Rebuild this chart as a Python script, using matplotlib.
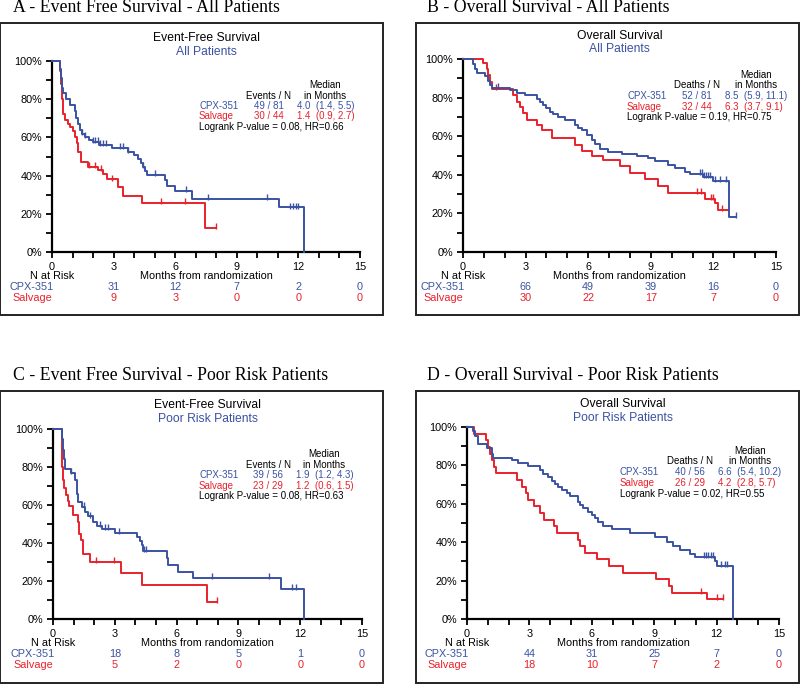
import numpy as np
import matplotlib
matplotlib.use("Agg")
import matplotlib.pyplot as plt
from matplotlib.patches import Rectangle

# --- colours / fonts ---
BLUE = "#3a52a3"
RED = "#e8212b"
SANS = "Liberation Sans"
SERIF = "Liberation Serif"

# --- data (months, % surviving) ---
# A - EFS all patients
a_cpx_t = [0, 0.40, 0.45, 0.50, 0.55, 0.70, 0.90, 1.10, 1.15, 1.25, 1.35, 1.45, 1.60, 1.80, 2.00, 2.30,
           2.90, 3.70, 4.00, 4.20, 4.35, 4.45, 4.55, 4.65, 5.50, 5.60, 6.00, 6.80, 11.05, 12.25]
a_cpx_s = [100, 96, 91, 86, 83, 80, 77, 74, 70, 67, 64, 62, 60, 58.5, 57.5, 56,
           54.5, 52.5, 51, 48.5, 46.5, 44.5, 42.5, 40.5, 37.5, 34.5, 32, 28, 23.3, 0]
a_cpx_end = 12.25
a_cpx_cens = [1.45, 1.6, 2.0, 2.1, 2.25, 2.35, 2.5, 2.65, 3.3, 3.45, 3.7, 4.45, 5.0, 6.55, 7.6, 10.45,
              11.6, 11.75, 11.9, 12.0]
a_sal_t = [0, 0.40, 0.45, 0.50, 0.55, 0.63, 0.80, 0.88, 1.04, 1.12, 1.20, 1.28, 1.41, 1.77, 2.26, 2.50,
           2.66, 3.23, 3.47, 4.37, 7.45]
a_sal_s = [100, 95, 88, 80, 72, 69, 67, 65.5, 63.5, 60, 57, 52.5, 47, 44.5, 43, 41,
           38, 34, 29.5, 25.5, 12.7]
a_sal_end = 7.97
a_sal_cens = [1.8, 2.1, 2.4, 2.9, 5.3, 6.5, 7.97]

# B - OS all patients
b_cpx_t = [0, 0.50, 0.58, 0.65, 1.05, 1.21, 1.29, 1.37, 2.25, 2.57, 2.97, 3.53, 3.69, 3.85, 4.00, 4.17,
           4.33, 4.57, 4.89, 5.37, 5.50, 5.69, 5.93, 6.17, 6.33, 6.57, 6.96, 7.60, 8.32, 8.88, 9.20,
           9.84, 10.16, 10.64, 10.88, 11.52, 12.0, 12.76]
b_cpx_s = [100, 97.5, 95, 93, 91, 88.5, 86.5, 85, 84, 82.5, 81.5, 79.5, 77.5, 76, 74.5, 72.5,
           71.5, 70, 68.5, 66, 64.5, 63, 60.5, 58, 56, 53.5, 52, 51, 50, 48.5, 47,
           45, 43.5, 41.5, 40.3, 38.7, 36.6, 18]
b_cpx_end = 13.08
b_cpx_cens = [1.7, 11.35, 11.45, 11.55, 11.65, 11.75, 11.85, 12.1, 12.3, 12.6, 13.08]
b_sal_t = [0, 0.97, 1.13, 1.21, 1.29, 1.37, 2.41, 2.57, 2.73, 2.89, 3.05, 3.53, 3.77, 4.25, 5.37,
           5.69, 6.17, 6.73, 7.52, 8.0, 8.72, 9.36, 9.84, 11.6, 12.08, 12.24]
b_sal_s = [100, 97.7, 95, 91.5, 88, 84.5, 81.5, 77.5, 75, 72, 68.5, 66, 63, 59, 55.5,
           52.5, 50, 47.5, 44.5, 41, 38, 34, 30.5, 27.5, 25.5, 22]
b_sal_end = 12.76
b_sal_cens = [1.6, 11.2, 11.4, 11.9, 12.0, 12.4]

# C - EFS poor risk
c_cpx_t = [0, 0.42, 0.47, 0.52, 0.58, 0.85, 1.07, 1.15, 1.23, 1.39, 1.55, 1.72, 1.96, 2.12, 2.36,
           3.0, 4.06, 4.22, 4.30, 4.39, 5.52, 5.60, 6.08, 6.81, 11.05, 12.2]
c_cpx_s = [100, 95, 89, 84, 79, 77, 73, 66, 61.5, 59, 56.5, 54, 51, 49, 47.5,
           45.5, 43, 41, 38.8, 36, 32, 28.3, 25, 21.5, 16, 0]
c_cpx_end = 12.2
c_cpx_cens = [0.88, 1.5, 1.8, 2.3, 2.5, 2.65, 3.2, 4.4, 4.5, 7.7, 10.5, 11.6, 11.8]
c_sal_t = [0, 0.42, 0.46, 0.50, 0.55, 0.62, 0.72, 0.80, 0.95, 1.20, 1.25, 1.35, 1.46, 1.78, 3.30,
           4.34, 7.46]
c_sal_s = [100, 90, 80, 73, 69, 65.5, 62, 59.5, 55, 51, 45, 41.5, 34, 30, 24,
           18, 9]
c_sal_end = 7.94
c_sal_cens = [2.1, 2.95, 7.94]

# D - OS poor risk
d_cpx_t = [0, 0.30, 0.38, 0.54, 0.95, 1.19, 1.27, 2.15, 2.47, 2.95, 3.51, 3.67, 3.91, 4.07, 4.23,
           4.39, 4.55, 4.79, 4.95, 5.35, 5.43, 5.59, 5.83, 5.99, 6.15, 6.31, 6.55, 6.96, 7.84,
           9.04, 9.60, 9.92, 10.24, 10.72, 10.96, 11.92, 12.0, 12.77]
d_cpx_s = [100, 98, 95.5, 91, 89, 86, 84, 82.7, 81.3, 79.7, 77.6, 75.5, 73.7, 72, 70.2,
           68.6, 67, 65.4, 64, 61, 59.4, 57.6, 55.9, 54, 52.4, 50.7, 48.5, 46.7, 44.6,
           42.9, 40.3, 38, 36, 34, 32.5, 30, 27.5, 0]
d_cpx_end = 12.77
d_cpx_cens = [11.4, 11.5, 11.6, 11.75, 11.85, 12.2, 12.4, 12.5]
d_sal_t = [0, 0.35, 0.93, 1.00, 1.10, 1.20, 1.30, 1.40, 2.40, 2.65, 2.85, 2.95, 3.20, 3.50, 3.70,
           4.16, 4.32, 5.36, 5.45, 5.68, 6.24, 6.85, 7.50, 9.10, 9.73, 9.84, 11.55]
d_sal_s = [100, 96.5, 93, 89.5, 86, 82.8, 79.3, 75.8, 72.4, 69, 65.5, 62, 58.6, 55.2, 51.7,
           48.3, 44.8, 41.4, 37.9, 34.5, 31, 27.6, 24.1, 20.7, 17.2, 13.8, 10.3]
d_sal_end = 12.3
d_sal_cens = [11.25, 12.0, 12.3]

# numbers at risk at 3, 6, 9, 12, 15 months
risk_times = [3, 6, 9, 12, 15]
a_cpx_risk = [31, 12, 7, 2, 0]
a_sal_risk = [9, 3, 0, 0, 0]
b_cpx_risk = [66, 49, 39, 16, 0]
b_sal_risk = [30, 22, 17, 7, 0]
c_cpx_risk = [18, 8, 5, 1, 0]
c_sal_risk = [5, 2, 0, 0, 0]
d_cpx_risk = [44, 31, 25, 7, 0]
d_sal_risk = [18, 10, 7, 2, 0]

W, H = 800, 684
PT = 0.72  # points per pixel at dpi 100

fig = plt.figure(figsize=(W / 100, H / 100), dpi=100)


def px_rect(l, r, t, b):
    return [l / W, 1 - b / H, (r - l) / W, (b - t) / H]


def draw_curve(ax, t, s, end, cens, color):
    tt = list(t) + [end]
    ss = list(s) + [s[-1]]
    ax.step(tt, ss, where="post", color=color, lw=1.4, clip_on=False, zorder=3)
    idx = np.searchsorted(np.array(t), np.array(cens), side="right") - 1
    cy = np.array(s)[idx]
    ax.plot(cens, cy + 1.0, ls="none", marker="|", ms=5, mew=1.0, color=color, clip_on=False, zorder=3)


def offset_text(ax, dx, dy, txt, color="black", ha="left", size=7.0):
    # dx, dy in pixels from the top right corner of the axes
    ax.annotate(txt, xy=(1, 1), xycoords="axes fraction", xytext=(dx * PT, -dy * PT),
                textcoords="offset points", ha=ha, va="center", color=color,
                fontsize=size, family=SANS)


def panel(box, axpx, title, title_xy, head1, head2, sub2, leg, curves, risks):
    # outer frame
    bl, br, bt, bb = box
    fig.add_artist(Rectangle((bl / W, 1 - bb / H), (br - bl) / W, (bb - bt) / H,
                             transform=fig.transFigure, fill=False, lw=1.4, ec="#222222"))
    fig.text(title_xy[0] / W, 1 - title_xy[1] / H, title, family=SERIF, fontsize=12.8,
             ha="left", va="center")

    ax = fig.add_axes(px_rect(*axpx))
    ax.set_xlim(0, 15)
    ax.set_ylim(0, 100)
    for side in ["top", "right"]:
        ax.spines[side].set_visible(False)
    for side in ["left", "bottom"]:
        ax.spines[side].set_linewidth(1.6)
    ax.set_xticks(range(0, 16, 3))
    ax.set_xticks(range(0, 16), minor=True)
    ax.set_yticks(range(0, 101, 20))
    ax.set_yticks(range(0, 101, 10), minor=True)
    ax.set_yticklabels([f"{v}%" for v in range(0, 101, 20)])
    ax.tick_params(which="both", direction="out", width=1.3, length=4, labelsize=7.8, pad=3)
    ax.tick_params(axis="x", which="both", length=4.5, pad=2.5)
    for lab in ax.get_xticklabels() + ax.get_yticklabels():
        lab.set_family(SANS)

    # header over the plot
    ax.annotate(head1, xy=(0.5, 1), xycoords="axes fraction", xytext=(0, head2[0] * PT),
                textcoords="offset points", ha="center", va="center", fontsize=8.7, family=SANS)
    ax.annotate(sub2, xy=(0.5, 1), xycoords="axes fraction", xytext=(0, head2[1] * PT),
                textcoords="offset points", ha="center", va="center", fontsize=8.7, family=SANS,
                color=BLUE)

    # legend block
    med_x, cnt_x, lab_x, val_x, ys, col_head, rows, logrank = leg
    offset_text(ax, med_x, ys[0], "Median", ha="center")
    offset_text(ax, cnt_x, ys[1], col_head, ha="center")
    offset_text(ax, med_x, ys[1], "in Months", ha="center")
    for (name, cnt, med, color), y in zip(rows, ys[2:4]):
        offset_text(ax, lab_x, y, name, color=color)
        offset_text(ax, cnt_x, y, cnt, color=color, ha="center")
        offset_text(ax, val_x, y, med, color=color)
    offset_text(ax, lab_x, ys[4], logrank)

    for c in curves:
        draw_curve(ax, *c)

    # numbers at risk
    def below(x, dy, txt, color="black", ha="center"):
        ax.annotate(txt, xy=(x, 0), xycoords=("data", "axes fraction"), xytext=(0, -dy * PT),
                    textcoords="offset points", ha=ha, va="center", fontsize=7.8,
                    family=SANS, color=color)

    below(0, 24, "N at Risk")
    below(7.5, 24, "Months from randomization")
    ax.annotate("CPX-351", xy=(0, 0), xycoords="axes fraction", xytext=(-20 * PT, -35 * PT),
                textcoords="offset points", ha="center", va="center", fontsize=7.8,
                family=SANS, color=BLUE)
    ax.annotate("Salvage", xy=(0, 0), xycoords="axes fraction", xytext=(-20 * PT, -46 * PT),
                textcoords="offset points", ha="center", va="center", fontsize=7.8,
                family=SANS, color=RED)
    for x, n1, n2 in zip(risk_times, risks[0], risks[1]):
        below(x, 35, str(n1), BLUE)
        below(x, 46, str(n2), RED)


panel((0, 383, 23, 315), (52, 360, 61, 252), "A - Event Free Survival - All Patients", (13, 8),
      "Event-Free Survival", (23, 9), "All Patients",
      (-35, -91, -161, -63, [24, 35, 45, 55, 66], "Events / N",
       [("CPX-351", "49 / 81", "4.0  (1.4, 5.5)", BLUE), ("Salvage", "30 / 44", "1.4  (0.9, 2.7)", RED)],
       "Logrank P-value = 0.08, HR=0.66"),
      [(a_sal_t, a_sal_s, a_sal_end, a_sal_cens, RED), (a_cpx_t, a_cpx_s, a_cpx_end, a_cpx_cens, BLUE)],
      (a_cpx_risk, a_sal_risk))

panel((416, 799, 23, 315), (463, 776, 59, 252), "B - Overall Survival - All Patients", (427, 8),
      "Overall Survival", (23, 10), "All Patients",
      (-20, -79, -149, -51, [16, 26, 37, 48, 58], "Deaths / N",
       [("CPX-351", "52 / 81", "8.5  (5.9, 11.1)", BLUE), ("Salvage", "32 / 44", "6.3  (3.7, 9.1)", RED)],
       "Logrank P-value = 0.19, HR=0.75"),
      [(b_sal_t, b_sal_s, b_sal_end, b_sal_cens, RED), (b_cpx_t, b_cpx_s, b_cpx_end, b_cpx_cens, BLUE)],
      (b_cpx_risk, b_sal_risk))

panel((0, 383, 391, 683), (53, 362, 429, 619), "C - Event Free Survival - Poor Risk Patients", (13, 375),
      "Event-Free Survival", (24, 10), "Poor Risk Patients",
      (-38, -94, -163, -66, [25, 36, 46, 57, 67], "Events / N",
       [("CPX-351", "39 / 56", "1.9  (1.2, 4.3)", BLUE), ("Salvage", "23 / 29", "1.2  (0.6, 1.5)", RED)],
       "Logrank P-value = 0.08, HR=0.63"),
      [(c_sal_t, c_sal_s, c_sal_end, c_sal_cens, RED), (c_cpx_t, c_cpx_s, c_cpx_end, c_cpx_cens, BLUE)],
      (c_cpx_risk, c_sal_risk))

panel((416, 799, 391, 683), (467, 779, 427, 619), "D - Overall Survival - Poor Risk Patients", (427, 375),
      "Overall Survival", (23, 9), "Poor Risk Patients",
      (-29, -89, -159, -61, [24, 34, 45, 56, 67], "Deaths / N",
       [("CPX-351", "40 / 56", "6.6  (5.4, 10.2)", BLUE), ("Salvage", "26 / 29", "4.2  (2.8, 5.7)", RED)],
       "Logrank P-value = 0.02, HR=0.55"),
      [(d_sal_t, d_sal_s, d_sal_end, d_sal_cens, RED), (d_cpx_t, d_cpx_s, d_cpx_end, d_cpx_cens, BLUE)],
      (d_cpx_risk, d_sal_risk))

fig.savefig("out.png", dpi=100)
